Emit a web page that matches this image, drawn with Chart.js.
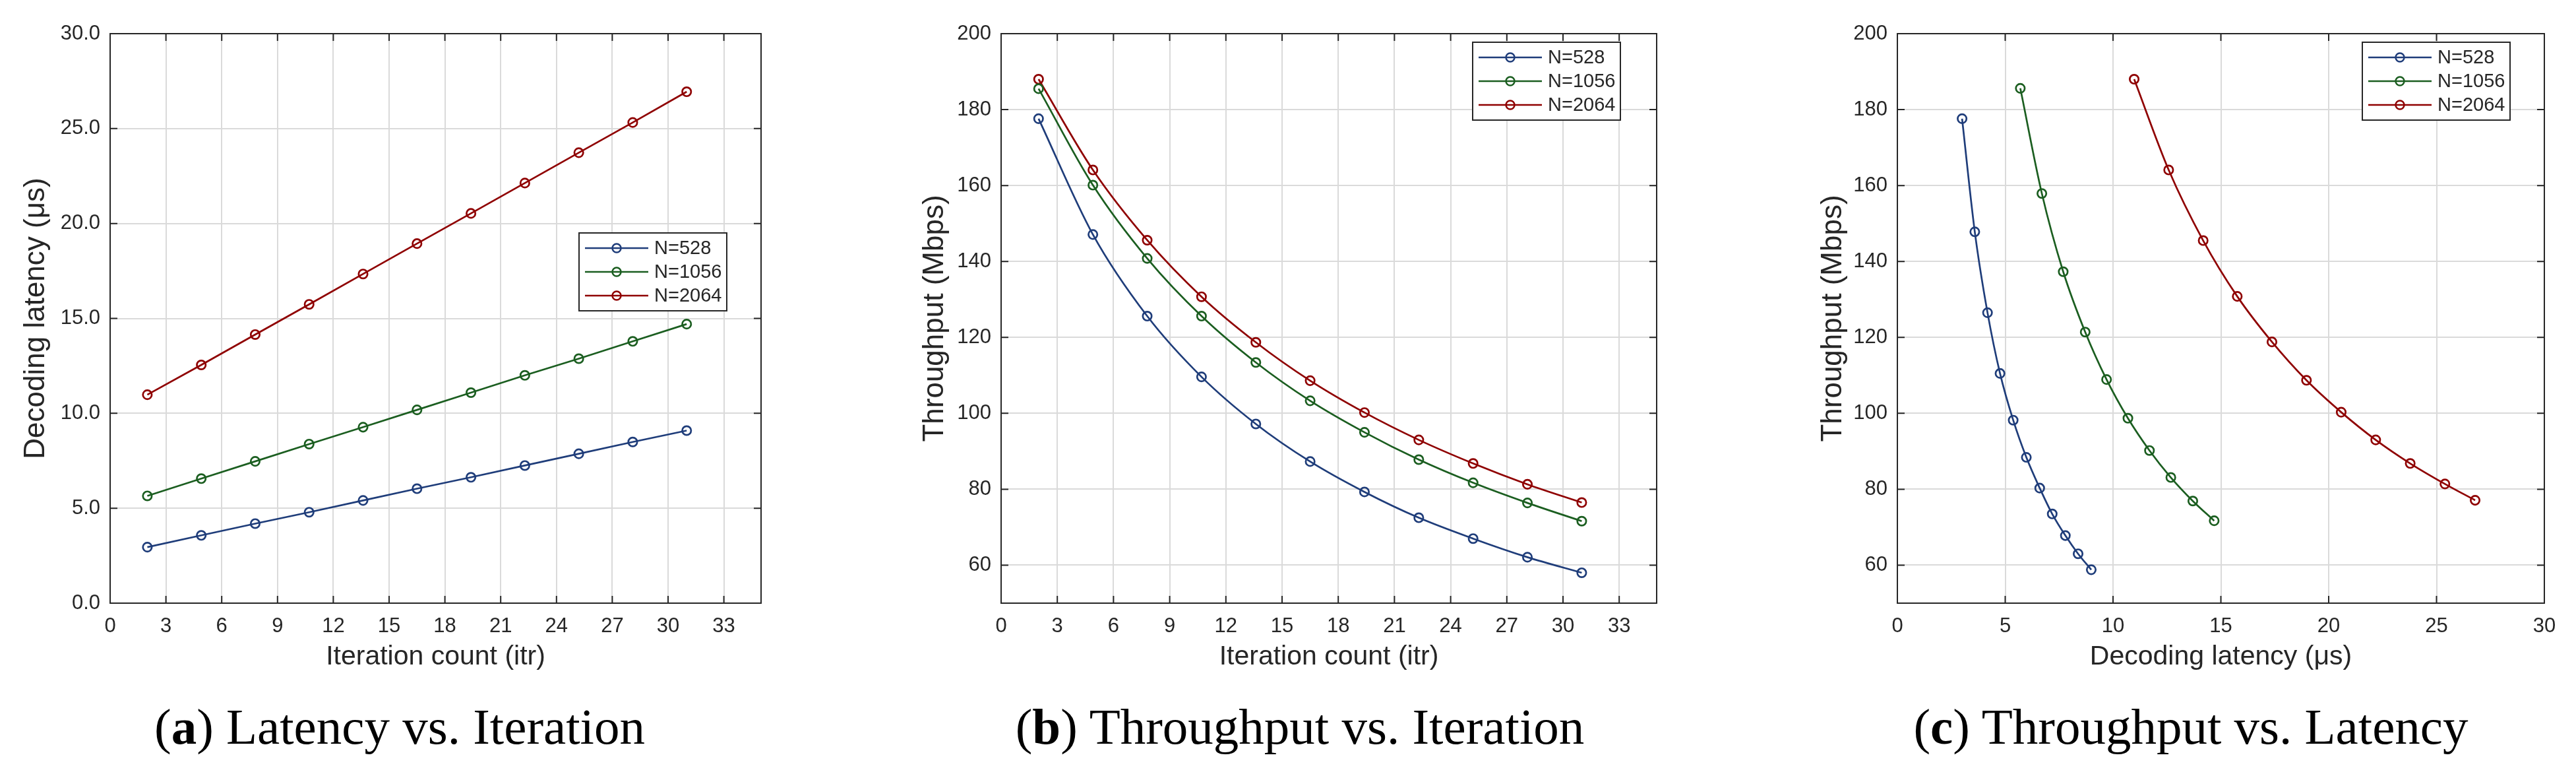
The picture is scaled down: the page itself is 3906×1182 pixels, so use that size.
<!DOCTYPE html>
<html>
<head>
<meta charset="utf-8">
<script src="https://cdn.jsdelivr.net/npm/chart.js@4.4.0/dist/chart.umd.min.js"></script>
<style>
  html, body { margin: 0; padding: 0; background: #fff; }
  body { width: 3906px; height: 1182px; position: relative; overflow: hidden; }
  canvas { position: absolute; top: 0; }
  .caption {
    position: absolute; top: 1063px; width: 1200px; text-align: center;
    font-family: 'Liberation Serif', 'DejaVu Serif', serif; font-size: 77px;
    line-height: 77px; color: #000; white-space: nowrap;
  }
</style>
</head>
<body>
<canvas id="chartA" width="1300" height="1040" style="left:0px"></canvas>
<canvas id="chartB" width="1300" height="1040" style="left:1300px"></canvas>
<canvas id="chartC" width="1306" height="1040" style="left:2600px"></canvas>
<div class="caption" style="left:6px">(<b>a</b>) Latency vs. Iteration</div>
<div class="caption" style="left:1371px">(<b>b</b>) Throughput vs. Iteration</div>
<div class="caption" style="left:2722px">(<b>c</b>) Throughput vs. Latency</div>
<script>
// series labels
const seriesNames = ["N=528", "N=1056", "N=2064"];

// (a) and (b): iteration count on x
const iterations = [2, 4.9, 7.8, 10.7, 13.6, 16.5, 19.4, 22.3, 25.2, 28.1, 31];
const latency528  = [2.95, 3.57, 4.19, 4.79, 5.41, 6.03, 6.63, 7.25, 7.87, 8.49, 9.09];
const latency1056 = [5.65, 6.56, 7.47, 8.38, 9.27, 10.18, 11.09, 12.00, 12.88, 13.79, 14.70];
const latency2064 = [10.98, 12.55, 14.15, 15.74, 17.34, 18.94, 20.53, 22.13, 23.73, 25.32, 26.94];
const throughput528  = [177.6, 147.1, 125.6, 109.6, 97.2, 87.3, 79.3, 72.5, 67.0, 62.1, 58.0];
const throughput1056 = [185.5, 160.1, 140.8, 125.6, 113.4, 103.3, 95.0, 87.8, 81.7, 76.4, 71.6];
const throughput2064 = [188.0, 164.1, 145.6, 130.7, 118.7, 108.6, 100.2, 93.0, 86.8, 81.3, 76.5];

// (c): throughput against latency
const tlLatency528  = [3.00, 3.59, 4.18, 4.76, 5.37, 5.98, 6.60, 7.18, 7.79, 8.38, 8.99];
const tlThrough528  = [177.6, 147.8, 126.5, 110.5, 98.2, 88.4, 80.3, 73.5, 67.8, 63.0, 58.8];
const tlLatency1056 = [5.70, 6.70, 7.69, 8.71, 9.70, 10.69, 11.69, 12.68, 13.70, 14.69];
const tlThrough1056 = [185.6, 157.9, 137.3, 121.4, 108.9, 98.7, 90.2, 83.1, 76.9, 71.7];
const tlLatency2064 = [10.98, 12.58, 14.18, 15.76, 17.37, 18.97, 20.58, 22.18, 23.78, 25.39, 26.79];
const tlThrough2064 = [188.0, 164.1, 145.5, 130.8, 118.8, 108.7, 100.3, 93.0, 86.8, 81.4, 77.1];

// tick values
const iterTicks = [0, 3, 6, 9, 12, 15, 18, 21, 24, 27, 30, 33];
const latencyTicks = [0, 5, 10, 15, 20, 25, 30];
const throughputTicks = [60, 80, 100, 120, 140, 160, 180, 200];

const colors = ["#1f3d7a", "#1b5e20", "#8f0000"];
const ink = "#262626";
const sans = "'Liberation Sans', Arial, sans-serif";

function pairs(xs, ys) {
    return xs.map((x, i) => ({ x: x, y: ys[i] }));
}

function series(xsList, ysList, smooth) {
    return xsList.map((xs, i) => ({
        label: seriesNames[i],
        data: pairs(xs, ysList[i]),
        borderColor: colors[i],
        borderWidth: 2.7,
        pointStyle: 'circle',
        pointRadius: 6.7,
        pointHoverRadius: 6.7,
        pointBorderWidth: 2.7,
        pointBorderColor: colors[i],
        pointBackgroundColor: 'rgba(0,0,0,0)',
        tension: 0,
        cubicInterpolationMode: smooth ? 'monotone' : 'default',
        fill: false
    }));
}

// box + inward ticks on all four sides
const frameTicks = {
    id: 'frameTicks',
    afterDatasetsDraw(chart) {
        const { ctx, chartArea: a, scales } = chart;
        const len = 11;
        ctx.save();
        ctx.strokeStyle = ink;
        ctx.lineWidth = 2;
        ctx.beginPath();
        scales.x.ticks.forEach(t => {
            const px = scales.x.getPixelForValue(t.value);
            ctx.moveTo(px, a.bottom); ctx.lineTo(px, a.bottom - len);
            ctx.moveTo(px, a.top); ctx.lineTo(px, a.top + len);
        });
        scales.y.ticks.forEach(t => {
            const py = scales.y.getPixelForValue(t.value);
            ctx.moveTo(a.left, py); ctx.lineTo(a.left + len, py);
            ctx.moveTo(a.right, py); ctx.lineTo(a.right - len, py);
        });
        ctx.stroke();
        ctx.strokeRect(a.left, a.top, a.right - a.left, a.bottom - a.top);
        ctx.restore();
    }
};

// legend box inside the plot, line + circle sample
const insetLegend = {
    id: 'insetLegend',
    afterDraw(chart, args, opts) {
        const { ctx, chartArea: a } = chart;
        const w = 224, h = 118;
        const left = a.right - opts.right - w;
        const top = a.top + opts.top;
        ctx.save();
        ctx.fillStyle = '#fff';
        ctx.fillRect(left, top, w, h);
        ctx.strokeStyle = ink;
        ctx.lineWidth = 2;
        ctx.strokeRect(left, top, w, h);
        ctx.font = "29px " + sans;
        ctx.textBaseline = 'middle';
        chart.data.datasets.forEach((ds, i) => {
            const y = top + 23 + i * 36;
            ctx.strokeStyle = ds.borderColor;
            ctx.lineWidth = 2.7;
            ctx.beginPath();
            ctx.moveTo(left + 9, y); ctx.lineTo(left + 105, y);
            ctx.stroke();
            ctx.lineWidth = 2.5;
            ctx.beginPath();
            ctx.arc(left + 57, y, 6.5, 0, Math.PI * 2);
            ctx.stroke();
            ctx.fillStyle = ink;
            ctx.fillText(ds.label, left + 114, y + 1);
        });
        ctx.restore();
    }
};

function makeChart(id, cfg) {
    const tickFont = { family: sans, size: 31 };
    new Chart(document.getElementById(id), {
        type: 'line',
        data: { datasets: cfg.datasets },
        options: {
            responsive: false,
            animation: false,
            devicePixelRatio: 1,
            layout: { padding: { left: 0, top: 51, right: cfg.padRight, bottom: 0 } },
            plugins: {
                legend: { display: false },
                tooltip: { enabled: false },
                insetLegend: cfg.legend
            },
            scales: {
                x: {
                    type: 'linear',
                    min: cfg.xMin, max: cfg.xMax,
                    afterBuildTicks: s => { s.ticks = cfg.xTicks.map(v => ({ value: v })); },
                    afterFit: s => { s.height = 126; },
                    grid: { color: '#dadada', lineWidth: 2, drawTicks: false },
                    border: { display: false },
                    ticks: { font: tickFont, color: ink, padding: 17, maxRotation: 0, autoSkip: false,
                             callback: v => String(v) },
                    title: { display: true, text: cfg.xTitle, color: ink,
                             font: { family: sans, size: 41 }, padding: { top: 0, bottom: 20 } }
                },
                y: {
                    type: 'linear',
                    min: cfg.yMin, max: cfg.yMax,
                    afterBuildTicks: s => { s.ticks = cfg.yTicks.map(v => ({ value: v })); },
                    afterFit: s => { s.width = cfg.yWidth; },
                    grid: { color: '#dadada', lineWidth: 2, drawTicks: false },
                    border: { display: false },
                    ticks: { font: tickFont, color: ink, padding: 15, autoSkip: false,
                             callback: cfg.yFormat },
                    title: { display: true, text: cfg.yTitle, color: ink,
                             font: { family: sans, size: 44 }, padding: { top: cfg.yTitlePad, bottom: 0 } }
                }
            }
        },
        plugins: [frameTicks, insetLegend]
    });
}

makeChart('chartA', {
    datasets: series([iterations, iterations, iterations], [latency528, latency1056, latency2064], false),
    xMin: 0, xMax: 35, xTicks: iterTicks,
    yMin: 0, yMax: 30, yTicks: latencyTicks,
    yFormat: v => v.toFixed(1),
    xTitle: 'Iteration count (itr)', yTitle: 'Decoding latency (μs)',
    yWidth: 167, yTitlePad: 28, padRight: 146,
    legend: { right: 52, top: 302 }
});

makeChart('chartB', {
    datasets: series([iterations, iterations, iterations], [throughput528, throughput1056, throughput2064], true),
    xMin: 0, xMax: 35, xTicks: iterTicks,
    yMin: 50, yMax: 200, yTicks: throughputTicks,
    yFormat: v => String(v),
    xTitle: 'Iteration count (itr)', yTitle: 'Throughput (Mbps)',
    yWidth: 218, yTitlePad: 91, padRight: 88,
    legend: { right: 55, top: 13 }
});

makeChart('chartC', {
    datasets: series([tlLatency528, tlLatency1056, tlLatency2064], [tlThrough528, tlThrough1056, tlThrough2064], true),
    xMin: 0, xMax: 30, xTicks: latencyTicks,
    yMin: 50, yMax: 200, yTicks: throughputTicks,
    yFormat: v => String(v),
    xTitle: 'Decoding latency (μs)', yTitle: 'Throughput (Mbps)',
    yWidth: 277, yTitlePad: 153, padRight: 48,
    legend: { right: 52, top: 13 }
});
</script>
</body>
</html>
